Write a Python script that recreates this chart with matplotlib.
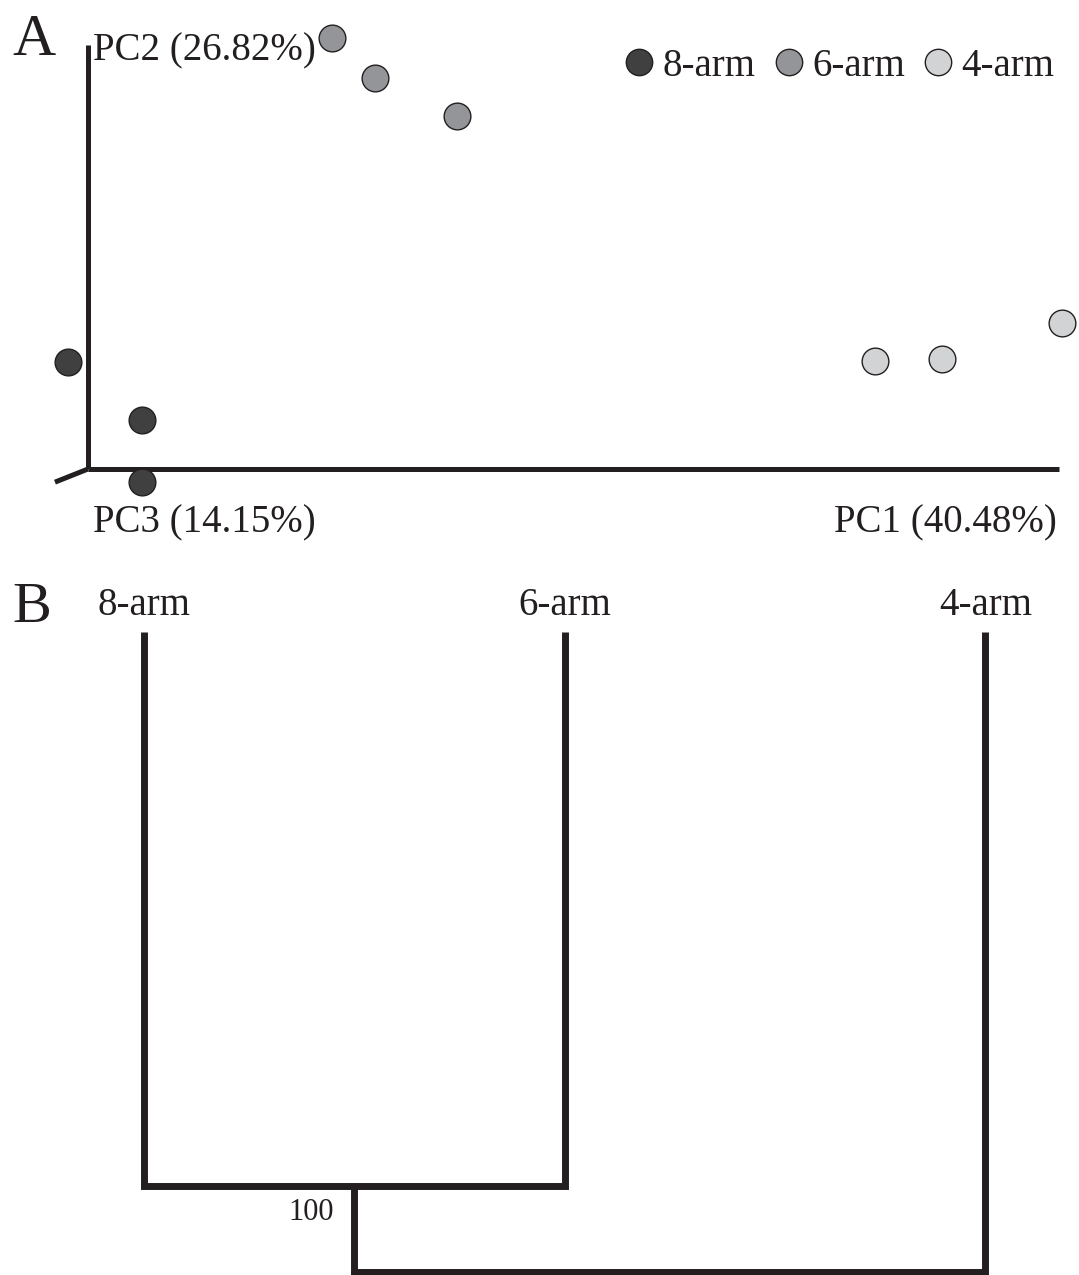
import matplotlib
matplotlib.use("Agg")
import matplotlib.pyplot as plt
from matplotlib.lines import Line2D

plt.rcParams["font.family"] = ["Liberation Serif", "DejaVu Serif"]

# PCoA scores (projected onto the drawn PC1/PC2 frame, PC3 as depth)
groups = ["8-arm", "6-arm", "4-arm"]
colors = ["#404041", "#939598", "#d1d3d4"]
pc1 = [
    [-0.021, 0.056, 0.056],
    [0.251, 0.296, 0.380],
    [0.811, 0.880, 1.003],
]
pc2 = [
    [0.252, 0.116, -0.031],
    [1.017, 0.922, 0.833],
    [0.254, 0.260, 0.344],
]
axis_labels = ["PC1 (40.48%)", "PC2 (26.82%)", "PC3 (14.15%)"]
pc3_dir = (-0.034, -0.031)

# UPGMA tree: leaves and merge heights (distance from the leaves)
leaves = ["8-arm", "6-arm", "4-arm"]
merge_heights = [0.865, 1.0]
bootstrap = "100"

W, H = 1079, 1275
fig = plt.figure(figsize=(W / 100, H / 100), dpi=100)

# ---- panel A: ordination ----
ax = fig.add_axes([0, 1 - 545 / H, 1, 545 / H])
ax.set_xlim(-0.0906, 1.0206)
ax.set_ylim(-0.1792, 1.1061)
ax.axis("off")

axis_kw = dict(color="#231f20", lw=3.6, solid_capstyle="butt", zorder=1)
ax.plot([0, 1], [0, 0], **axis_kw)
ax.plot([0, 0], [0, 1], **axis_kw)
ax.plot([0, pc3_dir[0]], [0, pc3_dir[1]], **axis_kw)

for g, c, xs, ys in zip(groups, colors, pc1, pc2):
    ax.scatter(xs, ys, s=370, c=c, edgecolors="#231f20", linewidths=1.0,
               zorder=3, clip_on=False)

txt = dict(fontsize=28, color="#231f20")
ax.text(0.998, -0.126, axis_labels[0], ha="right", va="center", **txt)
ax.text(0.005, 0.986, axis_labels[1], ha="left", va="center", **txt)
ax.text(0.005, -0.126, axis_labels[2], ha="left", va="center", **txt)

handles = [Line2D([], [], ls="none", marker="o", markersize=19,
                  markerfacecolor=c, markeredgecolor="#231f20",
                  markeredgewidth=1.0) for c in colors]
fig.legend(handles, groups, ncol=3, frameon=False, loc="center right",
           bbox_to_anchor=(1074 / W, 1 - 66 / H), fontsize=28,
           handletextpad=0.1, columnspacing=0.36, borderpad=0,
           handlelength=1.0, labelcolor="#231f20")

fig.text(12 / W, 1 - 55 / H, "A", fontsize=43, color="#231f20",
         ha="left", va="baseline")

# ---- panel B: dendrogram ----
bx = fig.add_axes([0, 0, 1, 730 / H])
bx.set_xlim(-0.3409, 2.2221)
bx.set_ylim(1.0047, -0.136)
bx.axis("off")

tree_kw = dict(color="#231f20", lw=5.0, solid_joinstyle="miter",
               solid_capstyle="butt", clip_on=False)
h1, h2 = merge_heights
# 8-arm + 6-arm clade
bx.plot([0, 0, 1, 1], [0, h1, h1, 0], **tree_kw)
# root joining the clade to 4-arm
mid = 0.5
bx.plot([mid, mid, 2, 2], [h1, h2, h2, 0], **tree_kw)

for i, name in enumerate(leaves):
    bx.text(i, -0.026, name, ha="center", va="baseline", **txt)

bx.annotate(bootstrap, xy=(mid, h1), xytext=(-20, -27),
            textcoords="offset pixels", ha="right", va="center",
            fontsize=22, color="#231f20")

fig.text(12 / W, 1 - 622 / H, "B", fontsize=42, color="#231f20",
         ha="left", va="baseline")

fig.savefig("out.png", dpi=100)
